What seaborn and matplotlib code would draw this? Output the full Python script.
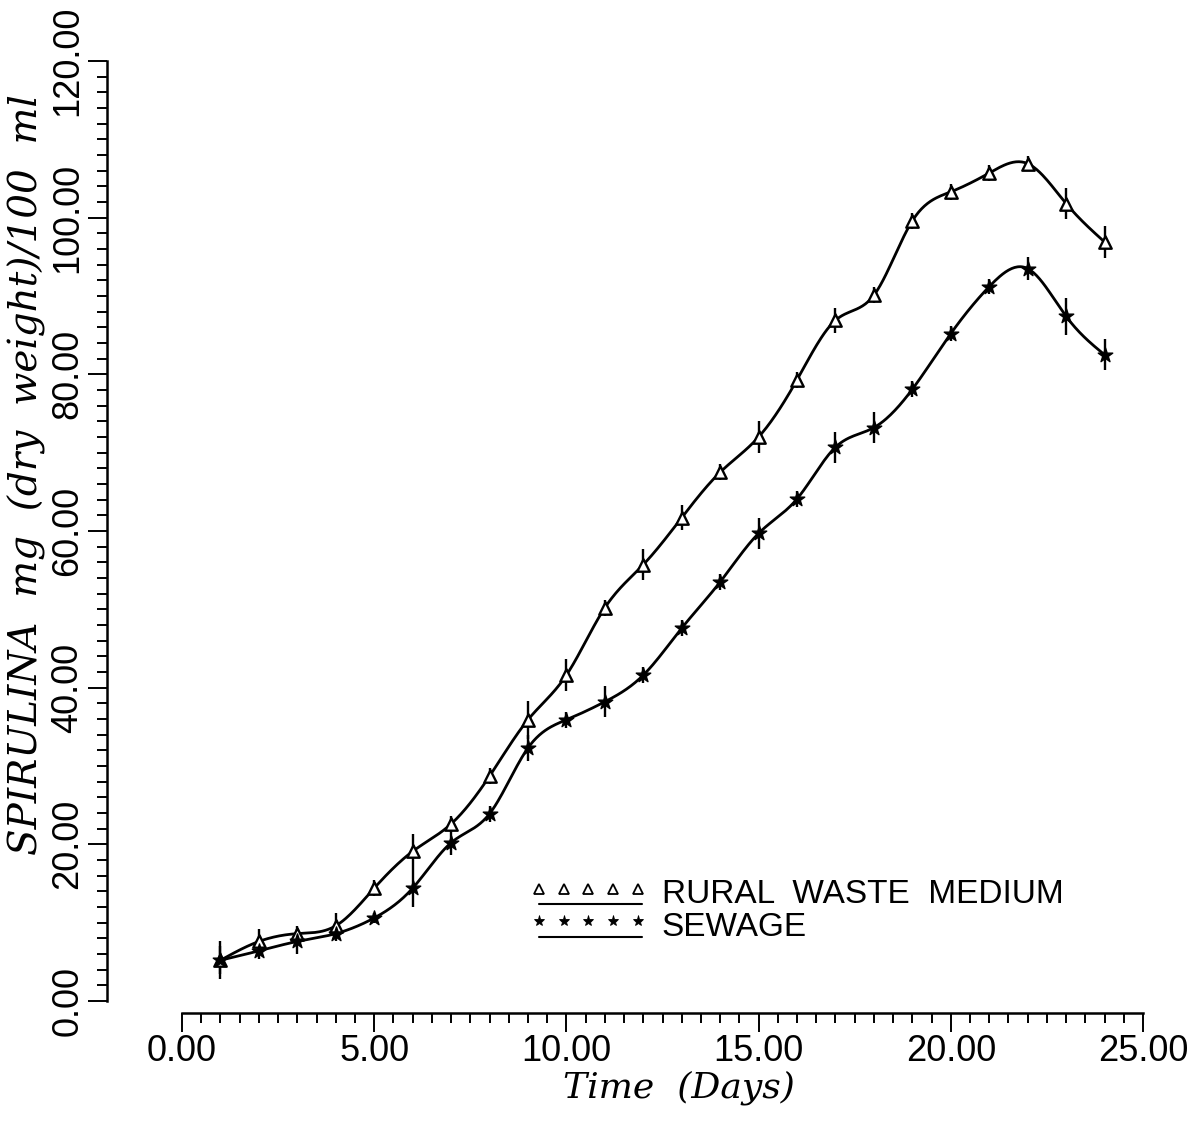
import numpy as np
import pandas as pd
import matplotlib
matplotlib.use("Agg")
import matplotlib.pyplot as plt
import seaborn as sns
from matplotlib.legend_handler import HandlerBase
from matplotlib.lines import Line2D
from matplotlib.ticker import MultipleLocator, FormatStrFormatter

# ---------------- data ----------------
days = [1, 2, 3, 4, 5, 6, 7, 8, 9, 10, 11, 12, 13, 14, 15, 16, 17, 18, 19, 20, 21, 22, 23, 24]
rural = [5.2, 7.6, 8.6, 9.6, 14.4, 19.1, 22.6, 28.7, 35.9, 41.6, 50.2, 55.7,
         61.7, 67.5, 72.0, 79.3, 86.9, 90.1, 99.6, 103.3, 105.7, 106.9, 101.8, 96.9]
rural_err = [1.8, 1.6, 1.0, 1.6, 1.0, 2.2, 1.0, 1.0, 2.4, 2.0, 1.0, 2.0,
             1.6, 1.0, 2.0, 1.0, 1.6, 1.0, 1.0, 1.0, 1.0, 1.0, 2.0, 2.0]
sewage = [5.2, 6.4, 7.6, 8.6, 10.6, 14.4, 20.2, 23.9, 32.3, 35.9, 38.2, 41.6,
          47.6, 53.5, 59.7, 64.1, 70.7, 73.2, 78.1, 85.2, 91.2, 93.5, 87.4, 82.5]
sewage_err = [2.4, 1.0, 1.6, 1.0, 0.6, 2.4, 1.6, 1.0, 1.6, 1.0, 2.0, 1.0,
              1.0, 1.0, 2.0, 1.0, 2.0, 2.0, 1.0, 1.0, 1.0, 1.5, 2.4, 2.0]
series_names = ["RURAL  WASTE  MEDIUM", "SEWAGE"]
x_ticks = [0, 5, 10, 15, 20, 25]
y_ticks = [0, 20, 40, 60, 80, 100, 120]
x_label = "Time  (Days)"
y_label = "SPIRULINA  mg  (dry  weight)/100  ml"


def natural_spline(x, y, n=600):
    x = np.asarray(x, float)
    y = np.asarray(y, float)
    m = len(x)
    h = np.diff(x)
    A = np.zeros((m, m))
    b = np.zeros(m)
    A[0, 0] = A[-1, -1] = 1.0
    for i in range(1, m - 1):
        A[i, i - 1] = h[i - 1]
        A[i, i] = 2 * (h[i - 1] + h[i])
        A[i, i + 1] = h[i]
        b[i] = 6 * ((y[i + 1] - y[i]) / h[i] - (y[i] - y[i - 1]) / h[i - 1])
    M = np.linalg.solve(A, b)
    xs = np.linspace(x[0], x[-1], n)
    idx = np.clip(np.searchsorted(x, xs) - 1, 0, m - 2)
    x0, x1 = x[idx], x[idx + 1]
    hh = x1 - x0
    t0 = x1 - xs
    t1 = xs - x0
    ys = (M[idx] * t0 ** 3 + M[idx + 1] * t1 ** 3) / (6 * hh) \
        + (y[idx] / hh - M[idx] * hh / 6) * t0 \
        + (y[idx + 1] / hh - M[idx + 1] * hh / 6) * t1
    return xs, ys


sns.set_style("ticks")
plt.rcParams["font.family"] = ["Liberation Sans", "DejaVu Sans"]
plt.rcParams["text.color"] = "black"

fig = plt.figure(figsize=(12.02, 11.24), dpi=100)
ax = fig.add_axes([182 / 1202, (1124 - 1001) / 1124, 961 / 1202, 940 / 1124])

# smooth curves
for yv, name in [(rural, series_names[0]), (sewage, series_names[1])]:
    xs, ys = natural_spline(days, yv)
    df = pd.DataFrame({"Time": xs, "Value": ys})
    sns.lineplot(data=df, x="Time", y="Value", color="black", lw=2.0,
                 ax=ax, sort=False, estimator=None, legend=False)

# error bars
ax.errorbar(days, rural, yerr=rural_err, fmt="none", ecolor="black",
            elinewidth=1.7, capsize=0, zorder=3)
ax.errorbar(days, sewage, yerr=sewage_err, fmt="none", ecolor="black",
            elinewidth=1.7, capsize=0, zorder=3)

# markers
sns.scatterplot(x=days, y=rural, marker="^", s=80, facecolor="white",
                edgecolor="black", linewidth=1.7, zorder=4, ax=ax, legend=False)
sns.scatterplot(x=days, y=sewage, marker="*", s=120, color="black",
                edgecolor="black", linewidth=1.0, zorder=4, ax=ax, legend=False)

ax.set_xlim(0, 25)
ax.set_ylim(0, 120)
ax.set_xlabel("")
ax.set_ylabel("")

for s in ["top", "right"]:
    ax.spines[s].set_visible(False)
ax.spines["left"].set_position(("outward", 54))
ax.spines["bottom"].set_position(("outward", 8.6))
ax.spines["left"].set_bounds(0, 120)
ax.spines["bottom"].set_bounds(0, 25)
for s in ["left", "bottom"]:
    ax.spines[s].set_linewidth(1.8)
    ax.spines[s].set_color("black")

ax.set_xticks(x_ticks)
ax.set_yticks(y_ticks)
ax.xaxis.set_minor_locator(MultipleLocator(0.5))
ax.yaxis.set_minor_locator(MultipleLocator(2))
ax.xaxis.set_major_formatter(FormatStrFormatter("%.2f"))
ax.yaxis.set_major_formatter(FormatStrFormatter("%.2f"))
ax.tick_params(axis="both", which="major", direction="out", length=13.5,
               width=1.4, color="black", labelsize=26, labelcolor="black")
ax.tick_params(axis="both", which="minor", direction="out", length=7.5,
               width=1.4, color="black")
ax.tick_params(axis="x", which="major", pad=2)
ax.tick_params(axis="y", which="major", pad=2)
for lab in ax.get_yticklabels():
    lab.set_rotation(90)
    lab.set_va("center")
    lab.set_ha("right")

# axis labels
fig.text(679 / 1202, 1 - 1070 / 1124, x_label, ha="center", va="top",
         fontsize=26, fontstyle="italic", family="DejaVu Serif", color="black")
fig.text(27 / 1202, 1 - 475 / 1124, y_label, ha="center", va="center",
         rotation=90, fontsize=28, fontstyle="italic", family="DejaVu Serif",
         color="black")


# legend with markers above an underline
class UnderlinedMarkers(HandlerBase):
    def create_artists(self, legend, orig_handle, xdescent, ydescent,
                       width, height, fontsize, trans):
        xs = np.linspace(-xdescent + 3, width - xdescent - 3, 5)
        ym = height / 2 - ydescent + 2
        mk = Line2D(xs, [ym] * 5, marker=orig_handle.get_marker(), ls="",
                    markerfacecolor=orig_handle.get_markerfacecolor(),
                    markeredgecolor="black", markersize=orig_handle.get_markersize(),
                    markeredgewidth=orig_handle.get_markeredgewidth(),
                    transform=trans)
        ln = Line2D([-xdescent + 3, width - xdescent], [ym - 11] * 2,
                    color="black", lw=1.5, transform=trans)
        return [mk, ln]


h1 = Line2D([], [], marker="^", ls="", markerfacecolor="white",
            markeredgecolor="black", markersize=7, markeredgewidth=1.3)
h2 = Line2D([], [], marker="*", ls="", markerfacecolor="black",
            markeredgecolor="black", markersize=8, markeredgewidth=0.6)
leg = ax.legend([h1, h2], series_names, handler_map={Line2D: UnderlinedMarkers()},
                loc="center left", bbox_to_anchor=((535 - 182) / 961, (1001 - 911) / 940),
                frameon=False, fontsize=24, handlelength=3.2, handletextpad=0.6,
                labelspacing=0.05, borderpad=0, borderaxespad=0)
for t in leg.get_texts():
    t.set_color("black")

fig.savefig("out.png", dpi=100)
